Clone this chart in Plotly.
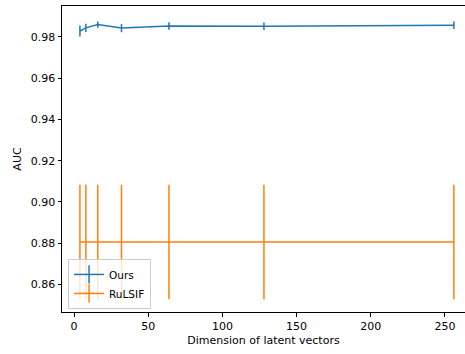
import plotly.graph_objects as go

dims = [4, 8, 16, 32, 64, 128, 256]
ours_auc = [0.9828, 0.9843, 0.9859, 0.9842, 0.9852, 0.9851, 0.9856]
ours_err = [0.0027, 0.0020, 0.0015, 0.0020, 0.0018, 0.0018, 0.0018]
rulsif_auc = [0.8806, 0.8806, 0.8806, 0.8806, 0.8806, 0.8806, 0.8806]
rulsif_err = [0.0277, 0.0277, 0.0277, 0.0277, 0.0277, 0.0277, 0.0277]

BLUE = "#1f77b4"
ORANGE = "#ff7f0e"
FONT = "DejaVu Sans"
FS = 11

fig = go.Figure()
for name, y, e, c in [("Ours", ours_auc, ours_err, BLUE),
                      ("RuLSIF", rulsif_auc, rulsif_err, ORANGE)]:
    fig.add_trace(go.Scatter(
        x=dims, y=y, mode="lines", name=name, showlegend=False,
        line=dict(color=c, width=1.5),
        error_y=dict(type="data", array=e, visible=True, color=c,
                     thickness=1.5, width=0),
    ))
    fig.add_trace(go.Scatter(
        x=[None], y=[None], mode="lines+markers", name=name,
        line=dict(color=c, width=1.5),
        marker=dict(symbol="line-ns-open", size=13, color=c,
                    line=dict(color=c, width=1.5)),
    ))

fig.update_layout(
    width=465, height=354,
    margin=dict(l=62, r=0, t=6, b=42, autoexpand=False),
    paper_bgcolor="white", plot_bgcolor="white",
    font=dict(family=FONT, size=FS, color="black"),
    showlegend=True,
    legend=dict(x=0.015, y=0.01, xanchor="left", yanchor="bottom",
                bgcolor="rgba(255,255,255,0.8)", bordercolor="#cccccc",
                borderwidth=1, font=dict(family=FONT, size=10.5),
                tracegroupgap=0, itemwidth=30),
    xaxis=dict(range=[-8.09, 263.5], tickvals=[0, 50, 100, 150, 200, 250],
               automargin=False,
               showgrid=False, zeroline=False, showline=True, mirror=True,
               linecolor="black", linewidth=1, ticks="outside", ticklen=3.5,
               tickcolor="black",
               title=dict(text="Dimension of latent vectors", standoff=4,
                          font=dict(family=FONT, size=FS))),
    yaxis=dict(range=[0.8467, 0.9949],
               tickvals=[0.86, 0.88, 0.90, 0.92, 0.94, 0.96, 0.98],
               tickformat=".2f", automargin=False,
               showgrid=False, zeroline=False, showline=True, mirror=False,
               linecolor="black", linewidth=1, ticks="outside", ticklen=3.5,
               tickcolor="black",
               title=dict(text="AUC", standoff=6,
                          font=dict(family=FONT, size=FS))),
)

fig.write_html("out.html",
               config={"displayModeBar": False},
               post_script="document.body.style.margin='0';document.body.style.overflow='hidden';")
